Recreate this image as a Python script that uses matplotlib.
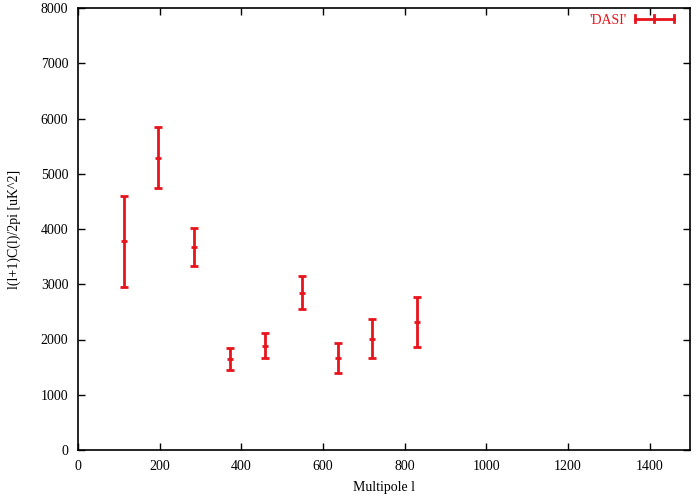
import matplotlib
matplotlib.use('Agg')
import matplotlib.pyplot as plt
from matplotlib.legend_handler import HandlerBase
from matplotlib.lines import Line2D

# DASI band powers
ell = [112, 197, 285, 372, 459, 548, 636, 720, 830]
power = [3777, 5290, 3674, 1647, 1888, 2848, 1665, 2009, 2317]
err_lo = [821, 554, 338, 199, 217, 296, 265, 350, 447]
err_hi = [815, 562, 338, 193, 224, 295, 278, 362, 452]

xticks = [0, 200, 400, 600, 800, 1000, 1200, 1400]
yticks = [0, 1000, 2000, 3000, 4000, 5000, 6000, 7000, 8000]

RED = '#e8141c'


# gnuplot-like key sample: horizontal bar with caps and a mid tick
class ErrKey(HandlerBase):
    def create_artists(self, legend, orig_handle, xd, yd, w, h, fontsize, trans):
        y = h / 2 - yd
        x0, x1 = -xd, -xd + w
        c = 2.5
        arts = [Line2D([x0, x1], [y, y], color=RED, lw=2)]
        for xx in (x0, (x0 + x1) / 2, x1):
            arts.append(Line2D([xx, xx], [y - c, y + c], color=RED, lw=2))
        for a in arts:
            a.set_transform(trans)
        return arts


plt.rcParams['font.family'] = ['Liberation Serif', 'DejaVu Serif']
plt.rcParams['font.size'] = 10

fig = plt.figure(figsize=(7, 5), dpi=100)
ax = fig.add_axes([0.1114, 0.1, 0.875, 0.884])

eb = ax.errorbar(ell, power, yerr=[err_lo, err_hi], fmt='none', ecolor=RED,
                 elinewidth=2, capsize=2.6, capthick=2)
ax.plot(ell, power, linestyle='none', marker='_', markersize=5, mew=2, color=RED)

ax.set_xlim(0, 1500)
ax.set_ylim(0, 8000)
ax.set_xticks(xticks)
ax.set_yticks(yticks)
ax.tick_params(direction='in', top=True, right=True, length=5, width=1, pad=7)
for s in ax.spines.values():
    s.set_linewidth(1.2)

ax.set_xlabel('Multipole l', labelpad=6)
ax.set_ylabel('l(l+1)C(l)/2pi [uK^2]', labelpad=14)

leg = ax.legend([eb], ["'DASI'"], handler_map={type(eb): ErrKey()},
                loc='upper right', bbox_to_anchor=(0.982, 1.0), frameon=False,
                markerfirst=False, handlelength=2.8, handletextpad=0.6,
                borderaxespad=0)
for t in leg.get_texts():
    t.set_color(RED)

fig.savefig('out.png', dpi=100)
